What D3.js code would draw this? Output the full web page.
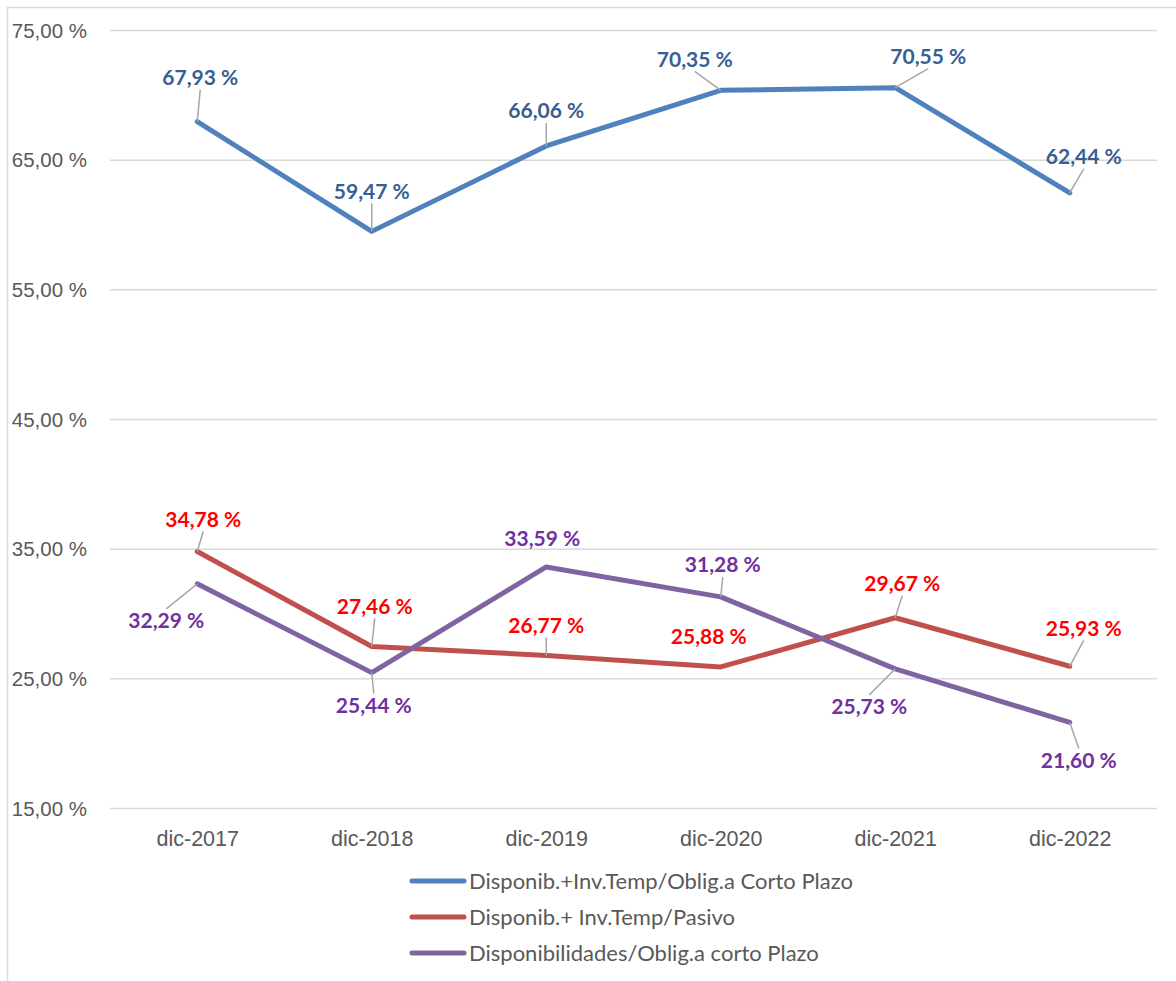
<!DOCTYPE html>
<head>
    <meta charset="utf-8">
    <style>
        body { margin: 0; background: #fff; font-family: Lato, 'Open Sans', sans-serif; }
        svg { position: absolute; top: 0; left: 0; }
        .axis.y text { font-size: 20.5px; fill: #595959; }
        .axis.x text { font-size: 21.5px; fill: #595959; }
        .label { font-size: 21px; font-weight: 700; text-anchor: middle; }
        .legend text { font-size: 22px; fill: #595959; }
    </style>
    <script src="https://d3js.org/d3.v7.min.js"></script>
</head>
<body>
<script>
    ////////////// Data //////////////
    const categories = ["dic-2017", "dic-2018", "dic-2019", "dic-2020", "dic-2021", "dic-2022"]
    const series_names = [
        "Disponib.+Inv.Temp/Oblig.a Corto Plazo",
        "Disponib.+ Inv.Temp/Pasivo",
        "Disponibilidades/Oblig.a corto Plazo"
    ]
    const corto_plazo = [67.93, 59.47, 66.06, 70.35, 70.55, 62.44]
    const pasivo = [34.78, 27.46, 26.77, 25.88, 29.67, 25.93]
    const disponibilidades = [32.29, 25.44, 33.59, 31.28, 25.73, 21.60]
    const y_ticks = [15, 25, 35, 45, 55, 65, 75]

    ////////////// Styles and label placement //////////////
    const line_colors = ["#4F81BD", "#C0504D", "#8064A2"]
    const label_colors = ["#376092", "#FF0000", "#7030A0"]
    //offset of each label centre from its point, and whether Excel drew a leader line
    const label_offsets = [
        [[3, -44, 1], [0, -40, 1], [0, -35, 1], [-26, -31, 1], [33, -31, 1], [14, -36, 1]],
        [[6, -32, 1], [3, -40, 1], [0, -30, 1], [-12, -30, 0], [7, -34, 1], [14, -38, 1]],
        [[-31, 37, 1], [2, 33, 1], [-4, -29, 0], [2, -32, 1], [-26, 38, 1], [9, 38, 1]]
    ]
    const all_series = [corto_plazo, pasivo, disponibilidades]

    const W = 1176, H = 981
    const svg = d3.select("body").append("svg").attr("width", W).attr("height", H)

    //chart border (only left and top edges fall inside the picture)
    svg.append("path")
        .attr("d", "M7.5," + H + "V7.5H" + W)
        .attr("fill", "none")
        .attr("stroke", "#d9d9d9")
        .attr("stroke-width", 1.5)

    ////////////// Scales //////////////
    const x_scale = d3.scalePoint()
        .domain(categories)
        .range([110, 1157])
        .padding(0.5)

    const y_scale = d3.scaleLinear()
        .domain([15, 75])
        .range([808, 30])

    const es = d3.formatLocale({ decimal: ",", thousands: ".", grouping: [3], currency: ["", " €"] })
    const fmt = v => es.format(".2f")(v) + " %"

    ////////////// Axes //////////////
    const y_axis = svg.append("g")
        .attr("class", "axis y")
        .attr("transform", "translate(110,0)")
        .call(d3.axisLeft(y_scale)
            .tickValues(y_ticks)
            .tickSize(-(1157 - 110))
            .tickPadding(23)
            .tickFormat(fmt))
    y_axis.select(".domain").remove()
    y_axis.selectAll(".tick line").attr("stroke", "#d9d9d9").attr("stroke-width", 1.5)
    y_axis.selectAll(".tick text").attr("dy", "0.35em")

    const x_axis = svg.append("g")
        .attr("class", "axis x")
        .attr("transform", "translate(0,808)")
        .call(d3.axisBottom(x_scale).tickSize(0).tickPadding(23))
    x_axis.select(".domain").remove()

    ////////////// Lines //////////////
    const line = d3.line()
        .x((d, i) => x_scale(categories[i]))
        .y(d => y_scale(d))

    all_series.forEach((s, k) => {
        svg.append("path")
            .datum(s)
            .attr("d", line)
            .attr("fill", "none")
            .attr("stroke", line_colors[k])
            .attr("stroke-width", 5)
            .attr("stroke-linejoin", "round")
            .attr("stroke-linecap", "round")
    })

    ////////////// Data labels //////////////
    all_series.forEach((s, k) => {
        s.forEach((v, i) => {
            const px = x_scale(categories[i]), py = y_scale(v)
            const [dx, dy, leader] = label_offsets[k][i]
            const cx = px + dx, cy = py + dy
            if (leader) {
                const ey = dy < 0 ? cy + 12 : cy - 12
                svg.append("line")
                    .attr("x1", px).attr("y1", py)
                    .attr("x2", cx).attr("y2", ey)
                    .attr("stroke", "#a6a6a6")
                    .attr("stroke-width", 1.5)
            }
            svg.append("text")
                .attr("class", "label")
                .attr("x", cx)
                .attr("y", cy)
                .attr("dy", "0.36em")
                .attr("fill", label_colors[k])
                .text(fmt(v))
        })
    })

    ////////////// Legend //////////////
    const legend = svg.append("g").attr("class", "legend")
    series_names.forEach((name, k) => {
        const y = 881 + k * 36
        legend.append("line")
            .attr("x1", 412).attr("x2", 464)
            .attr("y1", y).attr("y2", y)
            .attr("stroke", line_colors[k])
            .attr("stroke-width", 5)
            .attr("stroke-linecap", "round")
        legend.append("text")
            .attr("x", 469)
            .attr("y", y)
            .attr("dy", "0.35em")
            .text(name)
    })
</script>
</body>
